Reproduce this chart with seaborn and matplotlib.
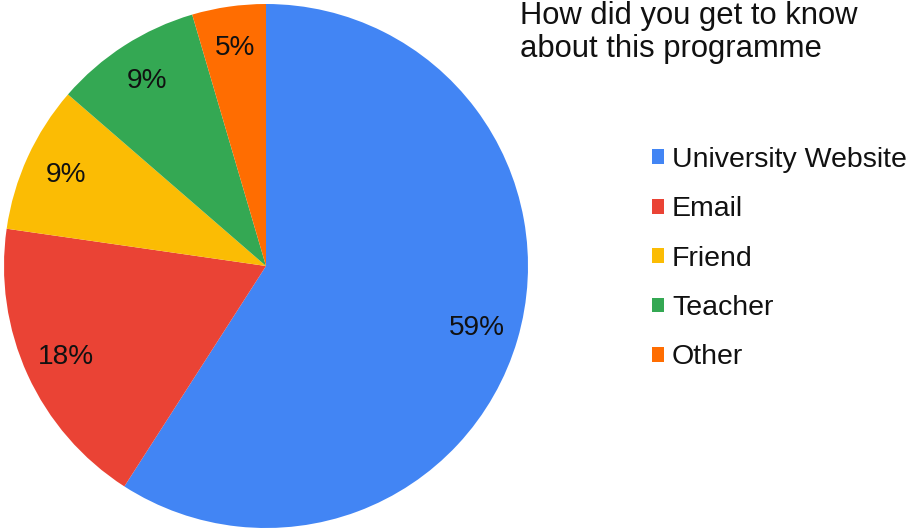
import matplotlib
matplotlib.use("Agg")
import matplotlib.pyplot as plt
import seaborn as sns
from matplotlib.patches import Patch

# survey answers (counts of respondents)
sources = ["University Website", "Email", "Friend", "Teacher", "Other"]
counts = [13, 4, 2, 2, 1]
colors = ["#4285F4", "#EA4335", "#FBBC04", "#34A853", "#FF6D01"]
title = "How did you get to know\nabout this programme"

W, H, DPI = 911, 529, 100

sns.set_theme(style="white")
plt.rcParams["font.family"] = ["Liberation Sans", "DejaVu Sans"]

fig = plt.figure(figsize=(W / DPI, H / DPI), dpi=DPI)
ax = fig.add_axes([4 / W, 1 / H, 524 / W, 524 / H])

wedges, _, autotexts = ax.pie(
    counts,
    colors=colors,
    startangle=90,
    counterclock=False,
    autopct="%.0f%%",
    pctdistance=0.84,
    radius=1.0,
    wedgeprops={"linewidth": 0},
    textprops={"fontsize": 20.2, "color": "#111111"},
)
ax.set_xlim(-1, 1)
ax.set_ylim(-1, 1)
ax.set_aspect("equal")
ax.axis("off")

fig.text(520 / W, 1 - 1 / H, title, ha="left", va="top", fontsize=22.3,
         color="#111111", linespacing=1.14)

handles = [Patch(facecolor=c, edgecolor="none") for c in colors]
fig.legend(
    handles,
    sources,
    loc="upper left",
    bbox_to_anchor=(652 / W, 1 - 147 / H),
    frameon=False,
    fontsize=20.5,
    handlelength=0.42,
    handleheight=0.42,
    handletextpad=0.28,
    labelspacing=0.82,
    borderaxespad=0,
    borderpad=0,
    labelcolor="#111111",
)

fig.savefig("out.png", dpi=DPI)
